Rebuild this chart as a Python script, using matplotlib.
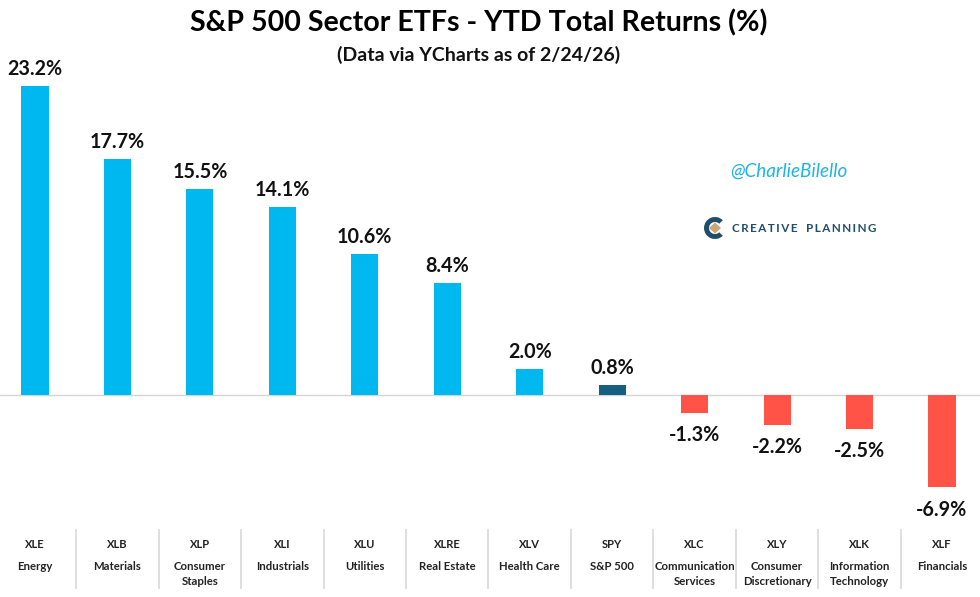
import numpy as np
from matplotlib import pyplot as plt, patches
from matplotlib.transforms import blended_transform_factory

tickers = ['XLE', 'XLB', 'XLP', 'XLI', 'XLU', 'XLRE', 'XLV', 'SPY', 'XLC', 'XLY', 'XLK', 'XLF']
names = ['Energy', 'Materials', 'Consumer\nStaples', 'Industrials', 'Utilities', 'Real Estate',
         'Health Care', 'S&P 500', 'Communication\nServices', 'Consumer\nDiscretionary',
         'Information\nTechnology', 'Financials']
returns = [23.2, 17.7, 15.5, 14.1, 10.6, 8.4, 2.0, 0.8, -1.3, -2.2, -2.5, -6.9]

W, H = 980, 597
plt.rcParams['font.family'] = ['Lato', 'DejaVu Sans']


def ypx(y):
    # pixel row from the top -> axes fraction
    return 1 - y / H


fig = plt.figure(figsize=(W / 100, H / 100), dpi=100)
ax = fig.add_axes([0, 0, 1, 1])
ax.set_xlim(-0.4245, 11.461)
ax.set_ylim(-15.15, 29.67)
ax.axis('off')

x = np.arange(len(returns))
colors = []
for t, r in zip(tickers, returns):
    if t == 'SPY':
        colors.append('#156082')
    elif r >= 0:
        colors.append('#00B8F0')
    else:
        colors.append('#FF5347')
ax.bar(x, returns, width=0.328, color=colors, linewidth=0, zorder=2)
ax.axhline(0, color='#D4D4D4', linewidth=1, zorder=1)

# value labels
for xi, r in zip(x, returns):
    ax.annotate(f'{r:.1f}%', (xi, r), xytext=(0, 5 if r >= 0 else -9), textcoords='offset points',
                ha='center', va='bottom' if r >= 0 else 'top', fontsize=14.2, fontweight='bold', color='#111111')

# table under the chart
tr = blended_transform_factory(ax.transData, ax.transAxes)
ax.vlines(x[:-1] + 0.5, ypx(529), ypx(589), transform=tr, color='#D9D9D9', linewidth=1.2)
for xi, t, n in zip(x, tickers, names):
    ax.text(xi, ypx(544), t, transform=tr, ha='center', va='center', fontsize=8, fontweight='bold', color='#222222')
    ax.text(xi, ypx(561.5), n, transform=tr, ha='center', va='top', fontsize=8.2, fontweight='bold', color='#222222',
            linespacing=1.34)

# titles
fig.text(478.5 / W, ypx(23), 'S&P 500 Sector ETFs - YTD Total Returns (%)', ha='center', va='center',
         fontsize=20.6, fontweight='bold', color='black')
fig.text(478.5 / W, ypx(55), '(Data via YCharts as of 2/24/26)', ha='center', va='center',
         fontsize=14, fontweight='bold', color='#111111')

# watermark and logo
fig.text(789 / W, ypx(171), '@CharlieBilello', ha='center', va='center', fontsize=13.6,
         style='italic', color='#1FB4E6')
logo = fig.add_axes([0, 0, 1, 1])
logo.set_xlim(0, W)
logo.set_ylim(H, 0)
logo.axis('off')
logo.patch.set_alpha(0)
logo.add_patch(patches.Wedge((715, 228), 11, 45, 315, width=5, color='#1F4E6B', linewidth=0))
logo.add_patch(patches.Polygon([(715, 222.5), (721, 228), (715, 233.5), (709, 228)], closed=True,
                               color='#C9A877', linewidth=0))
logo_text = '\u2009'.join('CREATIVE') + '   ' + '\u2009'.join('PLANNING')
logo.text(804, 228, logo_text, ha='center', va='center', fontsize=8.4, fontweight='bold', color='#1F4E6B')

fig.savefig('out.png', dpi=100)
